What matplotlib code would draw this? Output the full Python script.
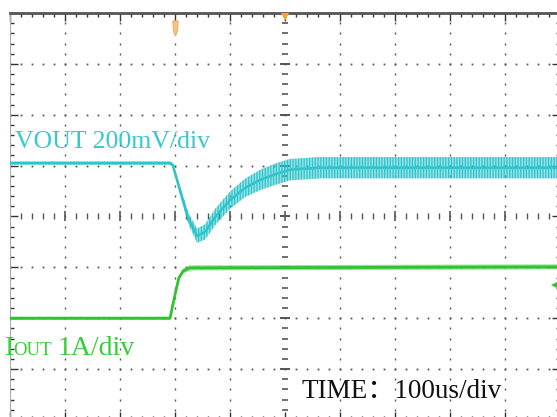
import numpy as np
import matplotlib.pyplot as plt
from matplotlib.path import Path

# scope screen: 10 div x 100us, 8 vertical div (values below in div)
t_vout = [0, 291, 296, 309, 324, 340, 355, 373, 400, 427, 455, 482, 509, 564, 1000]
vout_div = [5.05, 5.05, 5.01, 4.52, 3.97, 3.62, 3.70, 3.99, 4.32, 4.56, 4.72, 4.83, 4.92, 4.96, 4.96]
vout_ripple = [0.03, 0.03, 0.05, 0.08, 0.11, 0.14, 0.15, 0.16, 0.17, 0.18, 0.20, 0.21, 0.21, 0.21, 0.21]

t_iout = [0, 291, 296, 302, 307, 315, 327, 1000]
iout_div = [2.00, 2.00, 2.26, 2.56, 2.79, 2.93, 2.99, 3.01]
iout_ripple = [0.03, 0.03, 0.03, 0.04, 0.04, 0.05, 0.05, 0.05]

trigger_us = 300
center_us = 500
ch2_gnd = [990, 2.65]

CYAN = '#2ec4cc'
GREEN = '#2fc42f'
GRID = '#555555'

plt.rcParams['hatch.linewidth'] = 0.9

W, H = 557, 417
fig = plt.figure(figsize=(W / 100, H / 100), dpi=100)
fig.patch.set_facecolor('white')
ax = fig.add_axes([10 / W, (H - 420) / H, 550 / W, 407 / H])
ax.set_xlim(0, 1000)
ax.set_ylim(0, 8)

# border ticks
ax.set_xticks(np.arange(0, 1001, 100))
ax.set_xticks(np.arange(0, 1001, 20), minor=True)
ax.set_yticks(np.arange(0, 9, 1))
ax.set_yticks(np.arange(0, 8.01, 0.2), minor=True)
ax.tick_params(which='both', direction='in', top=True, bottom=True, left=True, right=True,
               labelbottom=False, labelleft=False, color='#333333', width=1.0)
ax.tick_params(which='major', length=5.5)
ax.tick_params(which='minor', length=3.2)
for s in ['left', 'right', 'bottom']:
    ax.spines[s].set_color('#aaaaaa')
    ax.spines[s].set_linewidth(0.8)
ax.spines['top'].set_color('#555555')
ax.spines['top'].set_linewidth(2.0)

# dotted graticule
ydots = np.arange(0, 8.01, 0.2)
xdots = np.arange(0, 1001, 20)
for gx in range(100, 1000, 100):
    if gx == center_us:
        continue
    ax.plot([gx] * len(ydots), ydots, ls='none', marker='|', ms=1.8, mew=1.0, color=GRID, zorder=1)
for gy in range(1, 8):
    if gy == 4:
        continue
    ax.plot(xdots, [gy] * len(xdots), ls='none', marker='s', ms=1.3, mew=0, color=GRID, zorder=1)

# center cross with tick marks
major_x = xdots[xdots % 100 == 0]
minor_x = xdots[xdots % 100 != 0]
ax.plot(minor_x, [4] * len(minor_x), ls='none', marker='|', ms=3.8, mew=1.0, color=GRID, zorder=1)
ax.plot(major_x, [4] * len(major_x), ls='none', marker='|', ms=6.5, mew=1.2, color=GRID, zorder=1)
major_y = ydots[np.isclose(ydots % 1, 0) | np.isclose(ydots % 1, 1)]
minor_y = np.array([v for v in ydots if v not in major_y])
ax.plot([center_us] * len(minor_y), minor_y, ls='none', marker='_', ms=3.8, mew=1.2, color=GRID, zorder=1)
ax.plot([center_us] * len(major_y), major_y, ls='none', marker='_', ms=6.5, mew=1.4, color=GRID, zorder=1)

# traces: mean line plus ripple band
v = np.array(vout_div)
rv = np.array(vout_ripple)
ax.fill_between(t_vout, v - rv, v + rv, facecolor=CYAN, alpha=0.5, lw=0, zorder=3)
ax.fill_between(t_vout, v - rv, v + rv, facecolor='none', edgecolor=CYAN, hatch='||||||', lw=0, zorder=3)
ax.plot(t_vout, vout_div, color=CYAN, lw=1.8, zorder=4)

i = np.array(iout_div)
ri = np.array(iout_ripple)
ax.fill_between(t_iout, i - ri, i + ri, facecolor=GREEN, alpha=0.5, lw=0, zorder=3)
ax.plot(t_iout, iout_div, color=GREEN, lw=2.0, zorder=4)

# markers
drop = Path([(-0.18, 0.5), (0.18, 0.5), (0.14, -0.15), (0, -0.5), (-0.14, -0.15), (-0.18, 0.5)])
ax.plot([trigger_us], [7.71], marker=drop, ms=11, color='#f3c48a', mec='#e8a860', mew=0.6,
        clip_on=False, zorder=5)
ax.plot([center_us], [7.93], marker='v', ms=6, color='#f0a828', mew=0, clip_on=False, zorder=5)
ax.plot([ch2_gnd[0]], [ch2_gnd[1]], marker='<', ms=6, color=GREEN, mew=0, zorder=5)

# labels
serif = ['Liberation Serif', 'DejaVu Serif']
fig.text(15 / W, 1 - 148 / H, 'VOUT 200mV/div', color='#35c9d0', fontsize=18.6,
         family=serif, va='baseline')
fig.text(5 / W, 1 - 355 / H, 'I', color='#3acd3a', fontsize=20, family=serif, va='baseline')
fig.text(13 / W, 1 - 355 / H, 'OUT', color='#3acd3a', fontsize=13.5, family=serif, va='baseline')
fig.text(58 / W, 1 - 355 / H, '1A/div', color='#3acd3a', fontsize=20, family=serif, va='baseline')
fig.text(302 / W, 1 - 398 / H, 'TIME：100us/div', color='#111111', fontsize=19.5,
         family=['Liberation Serif', 'Noto Sans CJK SC'], va='baseline')

fig.savefig('out.png', dpi=100)
